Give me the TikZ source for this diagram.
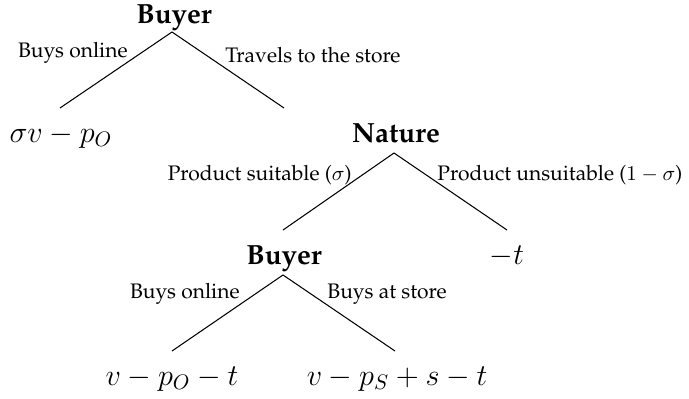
\documentclass[tikz,border=0pt]{standalone}
\usepackage[T1]{fontenc}
\renewcommand{\rmdefault}{ppl}
\begin{document}
\begin{tikzpicture}[x=0.4762pt,y=-0.4762pt,
  player/.style={font=\fontsize{13.2}{16}\selectfont\bfseries, inner sep=0pt, anchor=base},
  payoff/.style={font=\Large, inner sep=0pt, anchor=base},
  lbl/.style={font=\fontsize{10}{12}\selectfont, inner sep=0pt},
  branch/.style={line width=0.5pt}]
\useasboundingbox (0,0) rectangle (689,398);
% nodes
\node[player] (b1) at (174,23) {Buyer};
\coordinate (e1) at (60,108);
\coordinate (e2) at (284,108);
\node[payoff] (p1) at (61,142) {$\sigma v - p_O$};
\node[player] (n) at (396,142) {Nature};
\coordinate (e3) at (283,230);
\coordinate (e4) at (507,230);
\node[player] (b2) at (284,264) {Buyer};
\node[payoff] (p2) at (507,264) {$-t$};
\coordinate (e5) at (172,351);
\coordinate (e6) at (395,351);
\node[payoff] (p3) at (172,385) {$v - p_O - t$};
\node[payoff] (p4) at (397,385) {$v - p_S + s - t$};
% branches
\draw[branch] ([shift={(-2,9)}]b1.base) -- (e1);
\draw[branch] ([shift={(-2,9)}]b1.base) -- (e2);
\draw[branch] ([shift={(-2,11)}]n.base) -- (e3);
\draw[branch] ([shift={(-2,11)}]n.base) -- (e4);
\draw[branch] ([shift={(-1,11)}]b2.base) -- (e5);
\draw[branch] ([shift={(-1,11)}]b2.base) -- (e6);
% labels
\node[lbl, anchor=base east] (l1) at (128,57) {Buys online};
\node[lbl, anchor=base west] (l2) at (225,62) {Travels to the store};
\node[lbl, anchor=base east] (l3) at (352,180) {Product suitable ($\sigma$)};
\node[lbl, anchor=base west] (l4) at (437,180) {Product unsuitable ($1-\sigma$)};
\node[lbl, anchor=base east] (l5) at (240,298) {Buys online};
\node[lbl, anchor=base west] (l6) at (327,298) {Buys at store};
\end{tikzpicture}
\end{document}
